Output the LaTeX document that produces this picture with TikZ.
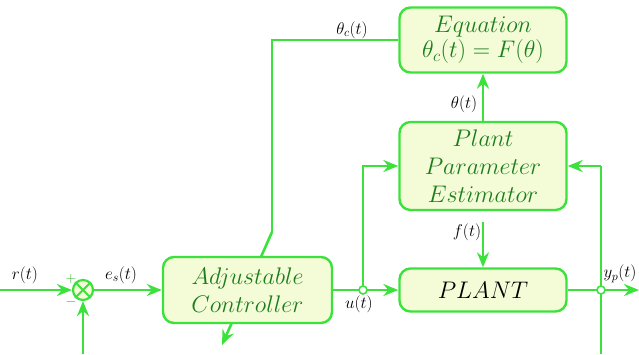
\RequirePackage{fix-cm}
\documentclass[tikz,border=0pt]{standalone}
\usetikzlibrary{arrows.meta,backgrounds}
\definecolor{wire}{RGB}{60,226,60}
\definecolor{boxfill}{RGB}{243,252,214}
\definecolor{boxtext}{RGB}{28,125,28}
\tikzset{
  blockbox/.style={draw=wire,line width=2.4pt,fill=boxfill,rounded corners=11pt,
    align=center,text=boxtext,font=\fontsize{24}{29}\selectfont},
  wireline/.style={draw=wire,line width=2.6pt},
  arr/.style={wireline,-{Stealth[length=15pt,width=12pt,inset=5pt]}},
  sig/.style={font=\fontsize{17}{20}\selectfont,text=black},
  joint/.style={circle,draw=wire,fill=white,line width=1.6pt,inner sep=0pt,minimum size=8pt},
}
\begin{document}
\begin{tikzpicture}[x=1pt,y=-1pt]
\useasboundingbox (0,0) rectangle (639,354);

% blocks
\node[blockbox,minimum width=167pt,minimum height=65pt] (eq) at (483,40)
  {$Equation$\\[-4pt]$\theta_c(t) = F(\theta)$};
\node[blockbox,minimum width=167pt,minimum height=88pt] (est) at (483,166)
  {$Plant$\\[-1pt]$Parameter$\\[-1pt]$Estimator$};
\node[blockbox,minimum width=167pt,minimum height=43pt,text=black] (plant) at (483,290)
  {$PLANT$};
\node[blockbox,minimum width=169pt,minimum height=66pt] (ctrl) at (247.5,290)
  {$Adjustable$\\[-1pt]$Controller$};

% summing junction
\node[circle,draw=wire,line width=2.2pt,fill=boxfill,minimum size=20pt,inner sep=0pt] (sum) at (83,290) {};
\draw[wire,line width=2pt] (sum.north west) -- (sum.south east) (sum.north east) -- (sum.south west);
\node[text=wire!80!black,font=\fontsize{14}{14}\selectfont] (plus) at (71,279) {$+$};
\node[text=wire!80!black,font=\fontsize{14}{14}\selectfont] (minus) at (71,302) {$-$};

% free ends and bends
\coordinate (rin) at (0,290);
\coordinate (fbin) at (83,354);
\coordinate (ujoint) at (363,290);
\coordinate (ybend) at (601,166);
\coordinate (ybot) at (601,354);
\coordinate (yout) at (639,290);
\coordinate (ftop) at (483,222);
\coordinate (tcbend) at (272,40);
\coordinate (tcdown) at (272,232);
\coordinate (tctip) at (222,345);

\begin{scope}[on background layer]
  \draw[arr] (rin) -- (sum.west);
  \draw[arr] (fbin) -- (sum.south);
  \draw[arr] (sum.east) -- (ctrl.west);
  \draw[arr] (ctrl.east) -- (plant.west);
  \draw[arr] (ujoint) |- (est.west);
  \draw[arr] (plant.east) -- (yout);
  \draw[wireline] (ybot) -- (ybend);
  \draw[arr] (ybend) -- (est.east);
  \draw[arr] (ftop) -- (plant.north);
  \draw[arr] (est.north) -- (eq.south);
  \draw[wireline] (eq.west) -- (tcbend) -- (tcdown);
  \draw[arr] (tcdown) -- (tctip);
\end{scope}

% junction dots
\node[joint] (uj) at (ujoint) {};
\node[joint] (yj) at (601,290) {};

% signal labels
\node[sig] (lr) at (25,275) {$r(t)$};
\node[sig] (le) at (121,275) {$e_s(t)$};
\node[sig] (lu) at (359,304) {$u(t)$};
\node[sig] (ly) at (620,274) {$y_p(t)$};
\node[sig] (ltc) at (352,30) {$\theta_c(t)$};
\node[sig] (lth) at (464,104) {$\theta(t)$};
\node[sig] (lf) at (467,232) {$f(t)$};
\end{tikzpicture}
\end{document}
